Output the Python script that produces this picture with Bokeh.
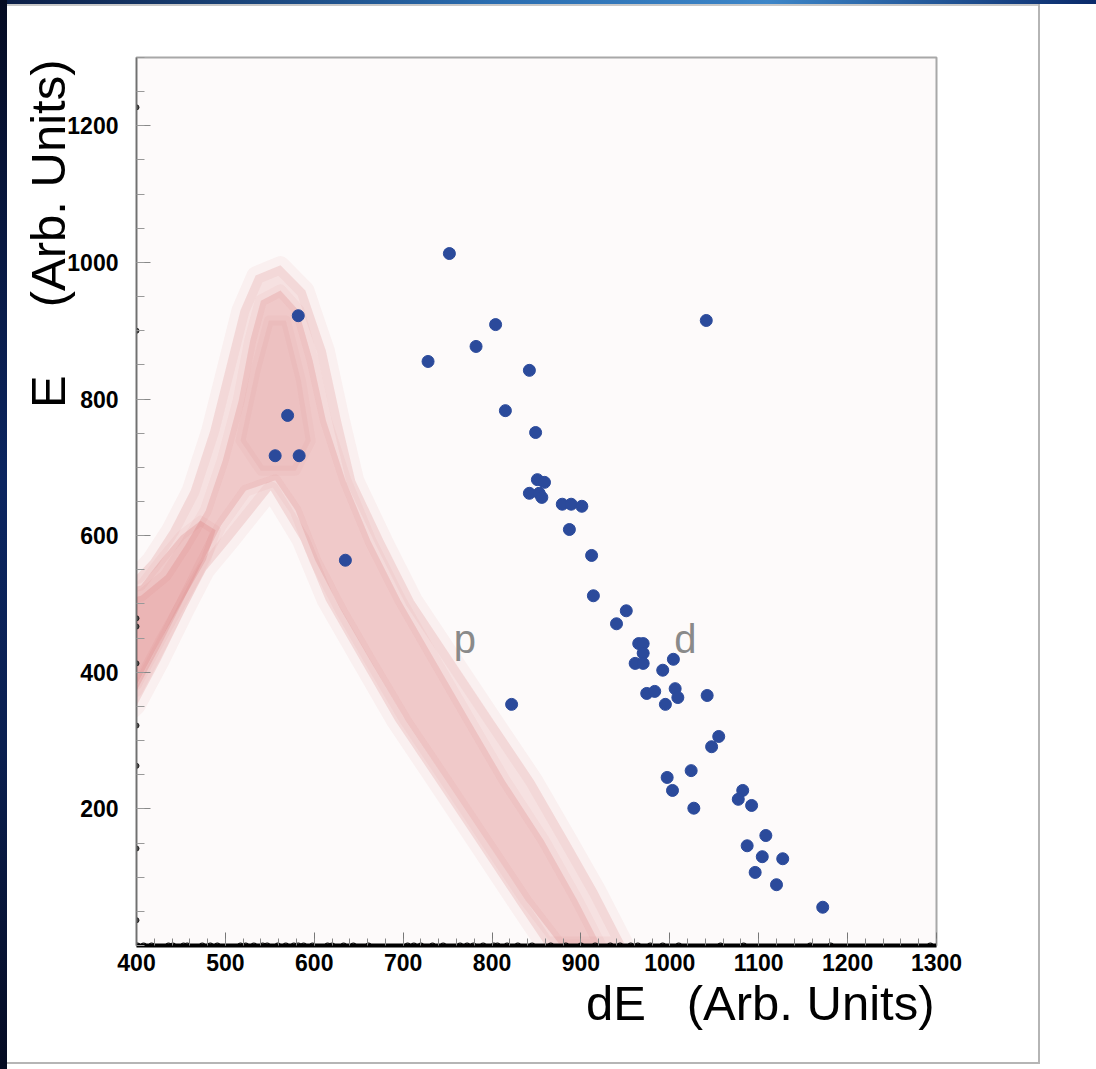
import math
from bokeh.plotting import figure
from bokeh.models import Range1d, FixedTicker, Label, Title
from bokeh.embed import file_html
from bokeh.resources import INLINE

# ---------------- data ----------------
# deuteron candidates (blue markers)
blue_de = [752, 582, 804, 782, 728, 842, 570, 815, 849, 556, 583, 851, 859, 842, 853,
           856, 879, 889, 901, 887, 912, 635, 914, 951, 940, 965, 970, 970, 961, 970,
           1004, 992, 974, 983, 1006, 1009, 995, 1042, 1055, 1047, 822, 1024, 997, 1003,
           1027, 1082, 1077, 1092, 1108, 1087, 1104, 1127, 1096, 1120, 1172, 1041]
blue_e = [1013, 922, 909, 877, 855, 842, 776, 783, 751, 717, 717, 682, 678, 662, 662,
          656, 646, 646, 643, 609, 571, 564, 512, 490, 471, 442, 442, 428, 413, 413,
          419, 403, 369, 372, 376, 363, 353, 366, 306, 291, 353, 256, 246, 227, 201,
          227, 214, 205, 161, 146, 130, 127, 107, 89, 56, 915]

# proton band: density contours (dE, E)
faint_de = [382, 400, 427, 455, 478, 506, 551, 585, 613, 652, 691, 736, 781, 826, 860,
            950, 918, 886, 847, 802, 757, 712, 678, 646, 630, 613, 590, 562, 534, 517,
            500, 483, 461, 438, 416, 400, 382]
faint_e = [329, 351, 417, 491, 549, 593, 666, 593, 505, 417, 329, 242, 154, 66, 0,
           0, 81, 154, 242, 329, 417, 505, 593, 681, 769, 871, 959, 996, 981, 930,
           842, 754, 666, 608, 564, 542, 534]
core_de = [382, 400, 427, 450, 472, 495, 523, 556, 579, 601, 630, 663, 703, 748, 793,
           838, 877, 922, 896, 858, 814, 775, 736, 697, 663, 635, 613, 598, 582, 562,
           540, 528, 515, 497, 478, 455, 433, 405, 382]
core_e = [359, 373, 439, 498, 556, 615, 666, 681, 637, 564, 491, 417, 329, 242, 154,
          66, 0, 0, 66, 154, 242, 329, 417, 505, 593, 681, 769, 857, 930, 959,
          944, 886, 798, 710, 637, 586, 542, 512, 505]
dense_low_de = [382, 400, 427, 455, 478, 489, 472, 450, 427, 405, 382]
dense_low_e = [373, 381, 447, 512, 564, 608, 622, 600, 564, 527, 520]
dense_peak_de = [517, 534, 549, 568, 585, 596, 579, 540]
dense_peak_e = [739, 842, 915, 915, 827, 739, 695, 695]

# points sitting on the frame edges (small black circles)
edge_left_e = [1227, 900, 479, 467, 413, 322, 263, 142, 37]
edge_bottom_de = [401, 408, 417, 436, 441, 453, 457, 474, 483, 491, 517, 523, 532, 542,
                  547, 559, 568, 577, 582, 588, 598, 615, 620, 633, 644, 661, 705, 712,
                  720, 733, 745, 764, 772, 779, 790, 802, 806, 817, 829, 845, 866, 883,
                  900, 916, 933, 944, 956, 964, 978, 992, 1010, 1057, 1083, 1158, 1181, 1293]

x_major = [400, 500, 600, 700, 800, 900, 1000, 1100, 1200, 1300]
y_major = [200, 400, 600, 800, 1000, 1200]
x_title = "dE\u00a0\u00a0\u00a0(Arb. Units)"
y_title = "E\u00a0\u00a0\u00a0\u00a0\u00a0(Arb. Units)"

# ---------------- figure ----------------
p = figure(width=1096, height=1069, output_backend="svg", toolbar_location=None,
           x_range=Range1d(400, 1300), y_range=Range1d(0, 1300),
           min_border_left=136, min_border_right=160, min_border_top=57,
           min_border_bottom=124)
p.background_fill_color = "#fdfafa"
p.border_fill_color = None
p.outline_line_color = "#a8a8a8"
p.outline_line_width = 2
p.grid.visible = False

# slide-like page decoration behind the canvas
p.styles = {
    "background": (
        "linear-gradient(to bottom, #050b22 0%, #0b2560 45%, #0a1f50 70%, #050b22 100%) "
        "0 0 / 7px 100% no-repeat, "
        "linear-gradient(to right, #0b1d45 0%, #2a6db0 45%, #3d86c8 70%, #0a2a6a 100%) "
        "0 0 / 100% 4px no-repeat, "
        "linear-gradient(#b5b5b5, #b5b5b5) 1038px 4px / 2px 1060px no-repeat, "
        "linear-gradient(#b5b5b5, #b5b5b5) 7px 1062px / 1033px 2px no-repeat, "
        "linear-gradient(#c8c8c8, #c8c8c8) 7px 4px / 1033px 2px no-repeat, "
        "#ffffff"
    )
}

RED = "#c83232"
p.patch(faint_de, faint_e, fill_color=RED, fill_alpha=0.12, line_color=RED,
        line_alpha=0.05, line_width=18, line_join="round")
p.patch(core_de, core_e, fill_color=RED, fill_alpha=0.13, line_color=RED,
        line_alpha=0.04, line_width=12, line_join="round")
p.patch(dense_low_de, dense_low_e, fill_color=RED, fill_alpha=0.13, line_color=RED,
        line_alpha=0.04, line_width=10, line_join="round")
p.patch(dense_peak_de, dense_peak_e, fill_color=RED, fill_alpha=0.05, line_color=RED,
        line_alpha=0.03, line_width=10, line_join="round")

p.scatter(x=blue_de, y=blue_e, size=12, color="#2b4a9b")
p.scatter(x=[400] * len(edge_left_e), y=edge_left_e, size=5, fill_color="#444444",
          line_color="#222222")
p.scatter(x=edge_bottom_de, y=[0] * len(edge_bottom_de), size=5, fill_color=None,
          line_color="#111111", line_width=1.2)

# axes
xa = p.xaxis[0]
xa.ticker = FixedTicker(ticks=x_major, minor_ticks=list(range(400, 1301, 20)))
xa.axis_line_color = "black"
xa.axis_line_width = 4
xa.major_tick_in = 13
xa.major_tick_out = 0
xa.minor_tick_in = 7
xa.minor_tick_out = 0
xa.major_tick_line_color = "#777777"
xa.minor_tick_line_color = "#888888"
xa.major_label_text_font = "Liberation Sans"
xa.major_label_text_font_style = "bold"
xa.major_label_text_font_size = "23px"
xa.major_label_text_color = "black"
xa.major_label_standoff = 8

ya = p.yaxis[0]
ya.ticker = FixedTicker(ticks=y_major, minor_ticks=list(range(0, 1301, 50)))
ya.axis_line_color = "#707070"
ya.axis_line_width = 1.5
ya.major_tick_in = 14
ya.major_tick_out = 0
ya.minor_tick_in = 8
ya.minor_tick_out = 0
ya.major_tick_line_color = "#888888"
ya.minor_tick_line_color = "#999999"
ya.major_label_text_font = "Liberation Sans"
ya.major_label_text_font_style = "bold"
ya.major_label_text_font_size = "23px"
ya.major_label_text_color = "black"
ya.major_label_standoff = 18

# axis titles (right-aligned, ROOT style)
p.add_layout(Title(text=x_title, align="right", text_font="Liberation Sans",
                   text_font_size="49px", text_font_style="normal",
                   text_color="black", standoff=0, offset=2), "below")
p.add_layout(Title(text=y_title, align="right", text_font="Liberation Sans",
                   text_font_size="49px", text_font_style="normal",
                   text_color="black", standoff=-20, offset=2), "left")

# particle labels
p.add_layout(Label(x=757, y=449, text="p", text_font="Liberation Sans",
                   text_font_size="40px", text_color="#8a8a8a",
                   text_baseline="alphabetic"))
p.add_layout(Label(x=1005, y=449, text="d", text_font="Liberation Sans",
                   text_font_size="40px", text_color="#8a8a8a",
                   text_baseline="alphabetic"))

open("out.html", "w").write(file_html(p, INLINE))
